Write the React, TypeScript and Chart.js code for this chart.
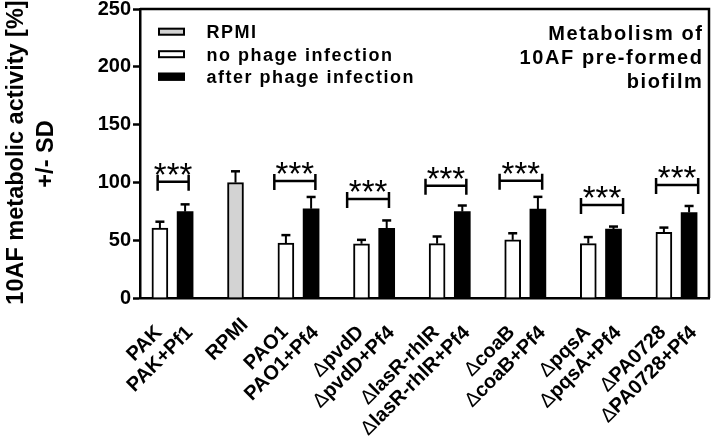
import React, { useEffect, useRef } from "react";
import { Chart, registerables } from "chart.js";

Chart.register(...registerables);

const FONT = "'Liberation Sans', Arial, Helvetica, sans-serif";

// ---- data ----
const groupLabels: string[][] = [
  ["PAK", "PAK+Pf1"],
  ["RPMI"],
  ["PAO1", "PAO1+Pf4"],
  ["ΔpvdD", "ΔpvdD+Pf4"],
  ["ΔlasR-rhlR", "ΔlasR-rhlR+Pf4"],
  ["ΔcoaB", "ΔcoaB+Pf4"],
  ["ΔpqsA", "ΔpqsA+Pf4"],
  ["ΔPA0728", "ΔPA0728+Pf4"],
];
const labelSlots = [0.5, 3, 5.5, 8.5, 11.5, 14.5, 17.5, 20.5];

const rpmiSlots = [3];
const rpmi = [99.8];
const rpmiSD = [9.8];

const noPhageSlots = [0, 5, 8, 11, 14, 17, 20];
const noPhage = [60.5, 47.5, 46.9, 47.0, 50.3, 47.1, 56.7];
const noPhageSD = [5.5, 6.9, 3.4, 6.2, 5.7, 5.6, 4.2];

const afterPhageSlots = [1, 6, 9, 12, 15, 18, 21];
const afterPhage = [74.7, 77.2, 60.3, 74.7, 77.0, 59.6, 74.0];
const afterPhageSD = [6.3, 10.2, 6.8, 5.3, 10.5, 2.2, 5.6];

const bracketLevels = [100.6, 101.2, 85.6, 97.0, 101.5, 80.5, 97.8];
const bracketFrom = [-0.09, 4.54, 7.43, 10.54, 13.48, 16.71, 19.69];
const bracketTo = [1.14, 6.17, 9.09, 12.16, 15.17, 18.38, 21.36];
const significance = "***";

const yTicks = [0, 50, 100, 150, 200, 250];
const yTitle = ["10AF metabolic activity [%]", "+/- SD"];
const legendLabels = ["RPMI", "no phage infection", "after phage infection"];
const titleLines = ["Metabolism of", "10AF pre-formed", "biofilm"];

const GREY = "#d3d3d3";

const overlay = {
  id: "overlay",
  afterDatasetsDraw(chart: any) {
    const { ctx, chartArea } = chart;
    const x = chart.scales.x;
    const y = chart.scales.y;
    ctx.save();
    ctx.strokeStyle = "#000";
    ctx.fillStyle = "#000";
    // frame top & right
    ctx.lineWidth = 2.5;
    ctx.beginPath();
    ctx.moveTo(chartArea.left, chartArea.top);
    ctx.lineTo(chartArea.right, chartArea.top);
    ctx.lineTo(chartArea.right, chartArea.bottom);
    ctx.stroke();

    // error bars (upper only)
    chart.data.datasets.forEach((ds: any, di: number) => {
      const meta = chart.getDatasetMeta(di);
      meta.data.forEach((bar: any, i: number) => {
        const v = ds.data[i].y;
        const sd = ds.sd[i];
        const top = y.getPixelForValue(v + sd);
        ctx.lineWidth = 2;
        ctx.beginPath();
        ctx.moveTo(bar.x, bar.y);
        ctx.lineTo(bar.x, top);
        ctx.stroke();
        ctx.lineWidth = 2.5;
        ctx.beginPath();
        ctx.moveTo(bar.x - 4.5, top);
        ctx.lineTo(bar.x + 4.5, top);
        ctx.stroke();
      });
    });

    // significance brackets
    bracketLevels.forEach((lv, i) => {
      const yy = y.getPixelForValue(lv);
      const x1 = x.getPixelForValue(bracketFrom[i]);
      const x2 = x.getPixelForValue(bracketTo[i]);
      ctx.lineWidth = 2.5;
      ctx.beginPath();
      ctx.moveTo(x1, yy);
      ctx.lineTo(x2, yy);
      ctx.moveTo(x1, yy - 7);
      ctx.lineTo(x1, yy + 9);
      ctx.moveTo(x2, yy - 7);
      ctx.lineTo(x2, yy + 9);
      ctx.stroke();
      ctx.font = `normal 33px ${FONT}`;
      ctx.textAlign = "center";
      ctx.textBaseline = "alphabetic";
      ctx.fillText(significance, (x1 + x2) / 2, yy + 4);
    });
    ctx.restore();
  },
  afterDraw(chart: any) {
    const { ctx, chartArea } = chart;
    const x = chart.scales.x;
    ctx.save();
    ctx.fillStyle = "#000";
    ctx.strokeStyle = "#000";

    // y title
    ctx.font = `bold 23.5px ${FONT}`;
    ctx.textAlign = "center";
    ctx.textBaseline = "alphabetic";
    const yMid = (chartArea.top + chartArea.bottom) / 2;
    [22.7, 52.5].forEach((bx, i) => {
      ctx.save();
      ctx.translate(bx, yMid - 1 + i * 1.5);
      ctx.rotate(-Math.PI / 2);
      ctx.fillText(yTitle[i], 0, 0);
      ctx.restore();
    });

    // x labels (rotated 45°, centred lines, block's right-middle at anchor)
    const boldF = `bold 20px ${FONT}`;
    const normF = `normal 20px ${FONT}`;
    const L = 22;
    groupLabels.forEach((lines, gi) => {
      const gx = x.getPixelForValue(labelSlots[gi]);
      ctx.save();
      ctx.translate(gx + 9.5, chartArea.bottom + 24);
      ctx.rotate(-Math.PI / 4);
      const parts = lines.map((s) => {
        const hasD = s.startsWith("Δ");
        const pre = hasD ? "Δ" : "";
        const rest = hasD ? s.slice(1) : s;
        ctx.font = normF;
        const wp = pre ? ctx.measureText(pre).width : 0;
        ctx.font = boldF;
        const wr = ctx.measureText(rest).width;
        return { pre, rest, wp, w: wp + wr };
      });
      const maxW = Math.max(...parts.map((p) => p.w));
      ctx.textAlign = "left";
      ctx.textBaseline = "middle";
      parts.forEach((p, i) => {
        const cy = (i - (parts.length - 1) / 2) * L;
        let sx = -maxW / 2 - p.w / 2;
        if (p.pre) {
          ctx.font = normF;
          ctx.fillText(p.pre, sx, cy);
          sx += p.wp;
        }
        ctx.font = boldF;
        ctx.fillText(p.rest, sx, cy);
      });
      ctx.restore();
    });

    // legend
    const ds = chart.data.datasets;
    legendLabels.forEach((lab, i) => {
      const cy = 31.7 + i * 22.5;
      ctx.fillStyle = ds[i].backgroundColor;
      ctx.fillRect(158, cy - 4, 27, 8);
      ctx.lineWidth = 2;
      ctx.strokeStyle = "#000";
      ctx.strokeRect(159, cy - 3, 25, 6);
      ctx.fillStyle = "#000";
      ctx.font = `bold 18px ${FONT}`;
      (ctx as any).letterSpacing = "1.5px";
      ctx.textAlign = "left";
      ctx.textBaseline = "alphabetic";
      ctx.fillText(lab, 206.5, cy + 6.3);
    });

    // title
    ctx.font = `bold 20px ${FONT}`;
    (ctx as any).letterSpacing = "1.6px";
    ctx.textAlign = "right";
    ctx.textBaseline = "alphabetic";
    titleLines.forEach((t, i) => {
      ctx.fillText(t, 703.5, 39.5 + i * 24);
    });
    (ctx as any).letterSpacing = "0px";
    ctx.restore();
  },
};

export default function App() {
  const ref = useRef<HTMLCanvasElement>(null);
  useEffect(() => {
    if (!ref.current) return;
    const chart = new Chart(ref.current, {
      type: "bar",
      data: {
        datasets: [
          {
            label: legendLabels[0],
            data: rpmiSlots.map((s, i) => ({ x: s, y: rpmi[i] })),
            backgroundColor: GREY,
            borderColor: "#000",
            borderWidth: 2,
            sd: rpmiSD,
          } as any,
          {
            label: legendLabels[1],
            data: noPhageSlots.map((s, i) => ({ x: s, y: noPhage[i] })),
            backgroundColor: "#ffffff",
            borderColor: "#000",
            borderWidth: 2,
            sd: noPhageSD,
          } as any,
          {
            label: legendLabels[2],
            data: afterPhageSlots.map((s, i) => ({ x: s, y: afterPhage[i] })),
            backgroundColor: "#000000",
            borderColor: "#000",
            borderWidth: 0,
            sd: afterPhageSD,
          } as any,
        ],
      },
      options: {
        animation: false,
        responsive: false,
        layout: { padding: { top: 9, right: 4, left: 0, bottom: 0 } },
        plugins: { legend: { display: false }, tooltip: { enabled: false } },
        datasets: { bar: { grouped: false, barThickness: 16 } as any },
        scales: {
          x: {
            type: "linear",
            offset: false,
            min: -0.79,
            max: 21.79,
            ticks: { display: false },
            grid: { display: false, drawTicks: false },
            border: { display: true, color: "#000", width: 2.5 },
            afterFit(s: any) {
              s.height = 138;
              s.paddingLeft = 0;
              s.paddingRight = 0;
            },
          },
          y: {
            min: 0,
            max: 250,
            afterBuildTicks(s: any) {
              s.ticks = yTicks.map((v) => ({ value: v }));
            },
            ticks: {
              color: "#000",
              padding: 2,
              font: { family: FONT, size: 20, weight: "bold", lineHeight: 1 },
            },
            grid: {
              display: true,
              drawOnChartArea: false,
              drawTicks: true,
              tickLength: 7,
              tickColor: "#000",
              tickWidth: 2.5,
              color: "#000",
            },
            border: { display: true, color: "#000", width: 2.5 },
            afterFit(s: any) {
              s.width = 140;
              s.paddingTop = 0;
              s.paddingBottom = 0;
            },
          },
        },
      } as any,
      plugins: [overlay],
    });
    return () => chart.destroy();
  }, []);
  return (
    <canvas
      ref={ref}
      width={713}
      height={436}
      style={{ display: "block", position: "fixed", left: 0, top: 0 }}
    />
  );
}
